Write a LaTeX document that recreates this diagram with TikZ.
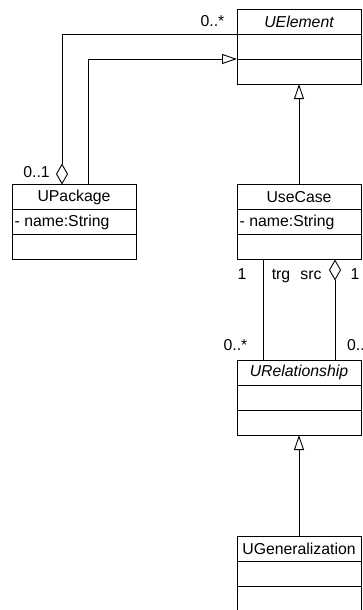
\documentclass[tikz,border=0pt]{standalone}
\usepackage{fontspec}
\setmainfont{Liberation Sans}
\usetikzlibrary{arrows.meta,positioning,calc}

\tikzset{
  umlfont/.style={font=\fontsize{15.8}{18}\selectfont},
  classname/.style={draw, line width=0.9pt, umlfont, minimum width=124pt,
    minimum height=25pt, inner sep=0pt, outer sep=0pt, anchor=north west},
  compart/.style={draw, line width=0.9pt, minimum width=124pt,
    minimum height=25pt, inner sep=0pt, outer sep=0pt, anchor=north},
  attr/.style={umlfont, anchor=west, inner sep=0pt, xshift=2.5pt},
  mult/.style={umlfont, anchor=base, inner sep=0pt},
  link/.style={line width=0.9pt},
  inherit/.style={link, -{Triangle[open, length=15pt, width=10pt]}},
  aggr/.style={link, {Diamond[open, length=21pt, width=12pt]}-},
}

\begin{document}
\begin{tikzpicture}[x=1pt, y=-1pt]
\clip (0,0) rectangle (362,610);

% UElement (abstract)
\node[classname, font=\fontsize{15.8}{18}\selectfont\itshape] (uel) at (237,9) {UElement};
\node[compart] (uelA) at (uel.south) {};
\node[compart] (uelO) at (uelA.south) {};

% UPackage
\node[classname] (upkg) at (12,184.5) {UPackage};
\node[compart] (upkgA) at (upkg.south) {};
\node[compart] (upkgO) at (upkgA.south) {};
\node[attr] (upkgName) at (upkgA.west) {- name:String};

% UseCase
\node[classname] (uc) at (237,184.5) {UseCase};
\node[compart] (ucA) at (uc.south) {};
\node[compart] (ucO) at (ucA.south) {};
\node[attr] (ucName) at (ucA.west) {- name:String};

% URelationship (abstract)
\node[classname, font=\fontsize{15.8}{18}\selectfont\itshape] (urel) at (237,360) {URelationship};
\node[compart] (urelA) at (urel.south) {};
\node[compart] (urelO) at (urelA.south) {};

% UGeneralization
\node[classname] (ugen) at (237,536) {UGeneralization};
\node[compart] (ugenA) at (ugen.south) {};
\node[compart] (ugenO) at (ugenA.south) {};

% package containment and package generalization
\draw[aggr] ([xshift=-12pt]upkg.north) |- (uel.south west);
\draw[inherit] ([xshift=14pt]upkg.north) |- (uelA.south west);

% UseCase is a UElement
\draw[inherit] (uc.north) -- (uelO.south);

% relationship ends
\draw[link] ([xshift=-36pt]ucO.south) -- ([xshift=-36pt]urel.north);
\draw[aggr] ([xshift=36pt]ucO.south) -- ([xshift=36pt]urel.north);

% UGeneralization is a URelationship
\draw[inherit] (ugen.north) -- (urelO.south);

% multiplicities and role names
\node[mult] (mElem) at (212.5,27) {0..*};
\node[mult] (mPkg) at (36.5,177) {0..1};
\node[mult] (mTrgUc) at (242,279.5) {1};
\node[mult] (rTrg) at (281,279.5) {trg};
\node[mult] (rSrc) at (311,279.5) {src};
\node[mult] (mSrcUc) at (355,279.5) {1};
\node[mult] (mTrgRel) at (235.5,350.5) {0..*};
\node[mult, anchor=base west] (mSrcRel) at (347,350.5) {0..*};
\end{tikzpicture}
\end{document}
